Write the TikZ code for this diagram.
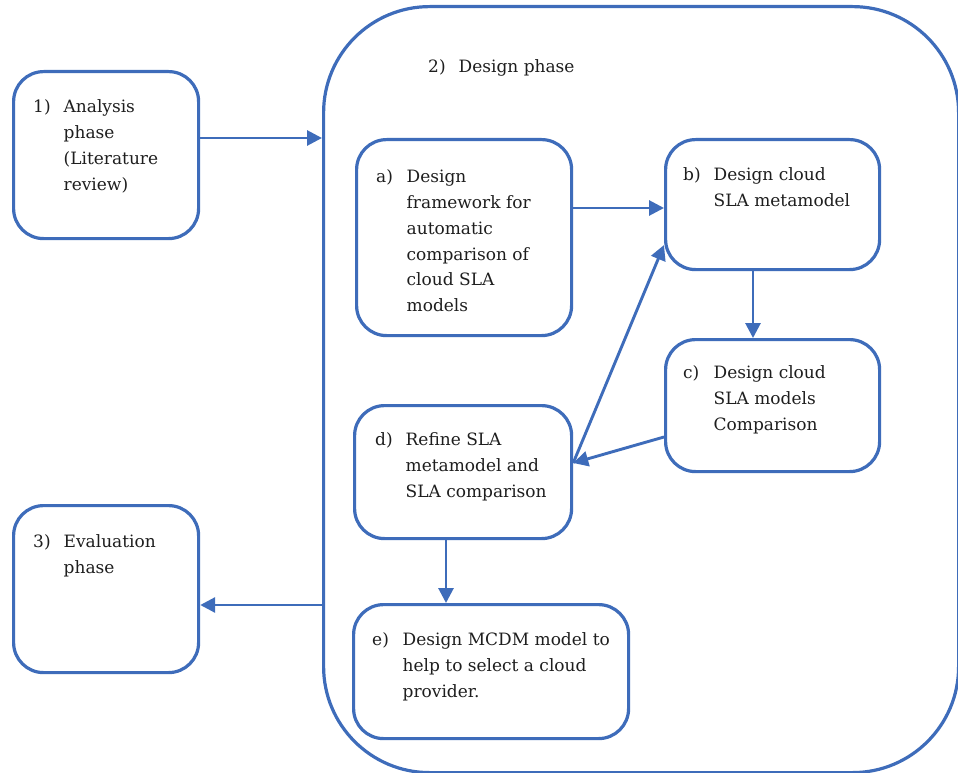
\documentclass[tikz,border=0pt]{standalone}
\usepackage{fontspec}
\setmainfont{DejaVu Serif}
\usetikzlibrary{arrows.meta}
\definecolor{flowblue}{RGB}{62,108,186}
\definecolor{ink}{RGB}{30,30,30}
% numbered label with a hanging block of lines
\newcommand{\numtext}[2]{\makebox[30.5pt][l]{#1}\begin{tabular}[t]{@{}l@{}}#2\end{tabular}}

\begin{document}
\begin{tikzpicture}[x=1pt,y=-1pt,
  phase/.style={draw=flowblue, line width=3.2pt, rounded corners=30pt, fill=white,
    inner sep=0pt, anchor=north west},
  txt/.style={anchor=base west, inner sep=0pt, text=ink,
    font=\fontsize{17}{26}\selectfont},
  arr/.style={draw=flowblue, line width=2.9pt, -{Triangle[length=15pt,width=15pt]}}]

\useasboundingbox (0,0) rectangle (958,773);

% design phase container
\node[phase, rounded corners=106pt, minimum width=635pt, minimum height=766pt] (design) at (322,5) {};

% outer phases
\node[phase, minimum width=185pt, minimum height=167pt] (p1) at (12,70) {};
\node[phase, minimum width=185pt, minimum height=167pt] (p3) at (12,504) {};

% design steps
\node[phase, minimum width=215pt, minimum height=196pt] (a) at (355,138) {};
\node[phase, minimum width=214pt, minimum height=130pt] (b) at (664,138) {};
\node[phase, minimum width=214pt, minimum height=132pt] (c) at (664,338) {};
\node[phase, minimum width=217pt, minimum height=133pt] (d) at (353,404) {};
\node[phase, minimum width=275pt, minimum height=134pt] (e) at (352,603) {};

% texts
\node[txt] (t1) at (33,113) {\numtext{1)}{Analysis\\phase\\(Literature\\review)}};
\node[txt] (t2) at (428,73) {\numtext{2)}{Design phase}};
\node[txt] (t3) at (33,547) {\numtext{3)}{Evaluation\\phase}};
\node[txt] (ta) at (376,182) {\numtext{a)}{Design\\framework for\\automatic\\comparison of\\cloud SLA\\models}};
\node[txt] (tb) at (683,180) {\numtext{b)}{Design cloud\\SLA metamodel}};
\node[txt] (tc) at (683,378) {\numtext{c)}{Design cloud\\SLA models\\Comparison}};
\node[txt] (td) at (375,445) {\numtext{d)}{Refine SLA\\metamodel and\\SLA comparison}};
\node[txt] (te) at (372,645) {\numtext{e)}{Design MCDM model to\\help to select a cloud\\provider.}};

% connector levels
\coordinate (y1) at (0,138);
\coordinate (y3) at (0,605);
\coordinate (yab) at (0,208);
\coordinate (xbc) at (753,0);
\coordinate (xde) at (446,0);
\coordinate (yc) at (0,437);
\coordinate (yd) at (0,463);
\coordinate (yb) at (0,245);

% connectors
\draw[arr] (p1.east |- y1) -- (design.west |- y1);
\draw[arr] (design.west |- y3) -- (p3.east |- y3);
\draw[arr] (a.east |- yab) -- (b.west |- yab);
\draw[arr] (b.south -| xbc) -- (c.north -| xbc);
\draw[arr] (c.west |- yc) -- (d.east |- yd);
\draw[arr] (d.east |- yd) -- (b.west |- yb);
\draw[arr] (d.south -| xde) -- (e.north -| xde);
\end{tikzpicture}
\end{document}
